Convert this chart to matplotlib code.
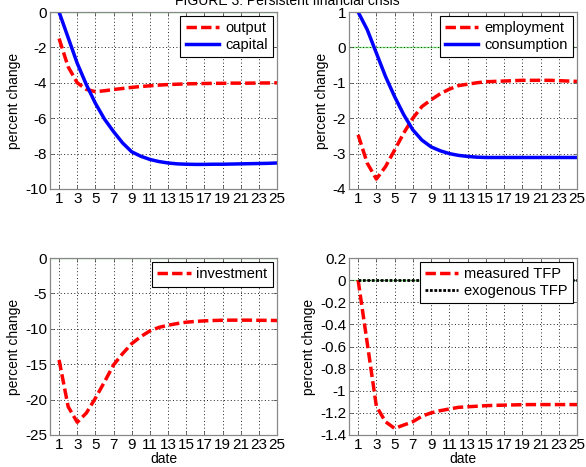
import matplotlib
matplotlib.use("Agg")
import matplotlib.pyplot as plt
import numpy as np

plt.rcParams['font.family'] = ['Liberation Sans', 'DejaVu Sans']

dates = list(range(1, 26))

output = [-1.5, -3.1, -4.0, -4.37, -4.5, -4.45, -4.38, -4.32, -4.26, -4.21, -4.17, -4.13,
          -4.1, -4.08, -4.06, -4.05, -4.04, -4.03, -4.03, -4.02, -4.02, -4.02, -4.01, -4.01, -4.0]
capital = [0.0, -1.45, -2.9, -4.1, -5.16, -6.05, -6.76, -7.4, -7.9, -8.15, -8.33, -8.45,
           -8.53, -8.58, -8.6, -8.61, -8.61, -8.6, -8.6, -8.59, -8.58, -8.57, -8.56, -8.55, -8.53]

employment = [-2.47, -3.27, -3.72, -3.37, -2.9, -2.42, -2.0, -1.67, -1.48, -1.31, -1.18, -1.08,
              -1.04, -1.0, -0.97, -0.96, -0.95, -0.94, -0.93, -0.93, -0.93, -0.93, -0.94, -0.95, -0.96]
consumption = [1.0, 0.5, -0.16, -0.82, -1.39, -1.9, -2.33, -2.62, -2.81, -2.92, -3.0, -3.05,
               -3.08, -3.1, -3.11, -3.11, -3.11, -3.11, -3.11, -3.11, -3.11, -3.11, -3.11, -3.11, -3.11]

investment = [-14.4, -21.0, -23.2, -21.9, -19.8, -17.5, -15.1, -13.5, -12.1, -11.1, -10.3, -9.8,
              -9.5, -9.26, -9.07, -8.96, -8.88, -8.83, -8.79, -8.78, -8.78, -8.78, -8.8, -8.81, -8.83]

measured_tfp = [0.0, -0.57, -1.14, -1.28, -1.34, -1.31, -1.28, -1.23, -1.2, -1.18, -1.165, -1.15,
                -1.145, -1.14, -1.135, -1.132, -1.13, -1.128, -1.126, -1.125, -1.125, -1.125, -1.125, -1.125, -1.125]
exogenous_tfp = [0.0] * 25

xtick_vals = list(range(1, 26, 2))

W, H = 586, 467
fig = plt.figure(figsize=(W / 100, H / 100), dpi=100)

def px_axes(l, t, r, b):
    return fig.add_axes([l / W, 1 - b / H, (r - l) / W, (b - t) / H])

def style(ax, yticks, ylabels, ylim, xlabel=False):
    ax.set_xlim(0, 25)
    ax.set_ylim(*ylim)
    ax.set_xticks(xtick_vals)
    ax.set_xticklabels([str(v) for v in xtick_vals])
    ax.set_yticks(yticks)
    ax.set_yticklabels(ylabels)
    ax.tick_params(direction='in', length=3, width=0.6, color='#555555',
                   labelsize=11, pad=2, top=True, right=True)
    ax.grid(True, color='#222222', linestyle=(0, (1, 2.5)), linewidth=0.7)
    for s in ax.spines.values():
        s.set_color('#888888')
        s.set_linewidth(0.9)
    ax.set_ylabel('percent change', fontsize=10, labelpad=3)
    if xlabel:
        ax.set_xlabel('date', fontsize=10, labelpad=0)
    ax.axhline(0, color='#80f080', linewidth=1.0, zorder=1.5)

red_kw = dict(color='#ff0000', linewidth=2.5, dashes=(3.0, 1.2))
blue_kw = dict(color='#0000ff', linewidth=2.5)

def leg(ax):
    l = ax.legend(loc='upper right', fontsize=10.5, handlelength=2.3, handletextpad=0.4,
                  borderpad=0.35, labelspacing=0.15, borderaxespad=0.3, fancybox=False,
                  framealpha=1)
    l.get_frame().set_edgecolor('black')
    l.get_frame().set_linewidth(0.8)

ax1 = px_axes(50, 12, 277, 189)
ax1.plot(dates, output, label='output', **red_kw)
ax1.plot(dates, capital, label='capital', **blue_kw)
style(ax1, [0, -2, -4, -6, -8, -10], ['0', '-2', '-4', '-6', '-8', '-10'], (-10, 0))
leg(ax1)

ax2 = px_axes(349, 12, 577, 189)
ax2.plot(dates, employment, label='employment', **red_kw)
ax2.plot(dates, consumption, label='consumption', **blue_kw)
style(ax2, [1, 0, -1, -2, -3, -4], ['1', '0', '-1', '-2', '-3', '-4'], (-4, 1))
leg(ax2)

ax3 = px_axes(50, 258, 277, 435)
ax3.plot(dates, investment, label='investment', **red_kw)
style(ax3, [0, -5, -10, -15, -20, -25], ['0', '-5', '-10', '-15', '-20', '-25'], (-25, 0), xlabel=True)
leg(ax3)

ax4 = px_axes(349, 258, 577, 435)
ax4.plot(dates, measured_tfp, label='measured TFP', **red_kw)
ax4.plot(dates, exogenous_tfp, label='exogenous TFP', color='black', linewidth=2.0,
         linestyle=(0, (1, 0.6)))
yt = [0.2, 0, -0.2, -0.4, -0.6, -0.8, -1.0, -1.2, -1.4]
style(ax4, yt, ['0.2', '0', '-0.2', '-0.4', '-0.6', '-0.8', '-1', '-1.2', '-1.4'], (-1.4, 0.2), xlabel=True)
leg(ax4)

fig.text(0.49, 1 - 5 / H, 'FIGURE 3: Persistent financial crisis', ha='center', va='baseline', fontsize=10)

fig.savefig('out.png', dpi=100)
